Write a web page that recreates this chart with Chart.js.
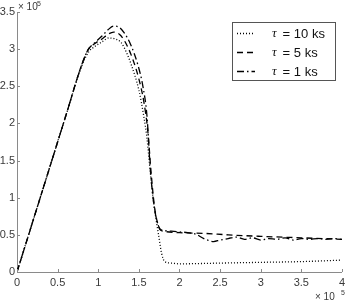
<!DOCTYPE html>
<html>
<head>
<meta charset="utf-8">
<script src="https://cdn.jsdelivr.net/npm/chart.js@4.4.0/dist/chart.umd.min.js"></script>
<style>
  html, body { margin: 0; padding: 0; background: #fff; }
  #wrap { width: 349px; height: 302px; }
</style>
</head>
<body>
<div id="wrap"><canvas id="myChart" width="349" height="302"></canvas></div>
<script>
// values in units of 1e5
const xTicks = [0, 0.5, 1, 1.5, 2, 2.5, 3, 3.5, 4];
const yTicks = [0, 0.5, 1, 1.5, 2, 2.5, 3, 3.5];

const x10 = [0, 0.2, 0.4, 0.6, 0.8, 0.88, 0.95, 1.05, 1.13, 1.2, 1.28, 1.35, 1.41, 1.5, 1.56, 1.6, 1.64, 1.68, 1.72, 1.75, 1.78, 1.82, 1.9, 2.0, 2.5, 3.0, 3.5, 4.0];
const y10 = [0, 0.7, 1.4, 2.1, 2.78, 2.96, 3.03, 3.1, 3.15, 3.14, 3.09, 2.95, 2.78, 2.45, 2.1, 1.8, 1.35, 0.95, 0.65, 0.45, 0.25, 0.14, 0.12, 0.11, 0.12, 0.13, 0.14, 0.16];

const x5 = [0, 0.2, 0.4, 0.6, 0.8, 0.88, 0.95, 1.05, 1.12, 1.19, 1.26, 1.33, 1.42, 1.5, 1.56, 1.61, 1.65, 1.69, 1.73, 1.76, 1.8, 2.0, 2.3, 2.6, 3.0, 3.5, 4.0];
const y5 = [0, 0.7, 1.4, 2.1, 2.8, 3.0, 3.07, 3.14, 3.2, 3.23, 3.2, 3.1, 2.88, 2.6, 2.3, 1.9, 1.35, 0.9, 0.66, 0.57, 0.55, 0.53, 0.52, 0.5, 0.48, 0.46, 0.44];

const x1 = [0, 0.2, 0.4, 0.6, 0.8, 0.88, 0.95, 1.05, 1.12, 1.19, 1.25, 1.32, 1.4, 1.49, 1.55, 1.6, 1.64, 1.68, 1.72, 1.76, 1.8, 1.9, 2.0, 2.1, 2.2, 2.3, 2.42, 2.5, 2.6, 2.7, 2.8, 2.9, 3.0, 3.1, 3.2, 3.3, 3.4, 3.5, 3.6, 3.7, 3.8, 3.9, 4.0];
const y1 = [0, 0.7, 1.4, 2.1, 2.8, 3.0, 3.08, 3.18, 3.26, 3.31, 3.3, 3.22, 3.06, 2.78, 2.5, 2.1, 1.4, 0.95, 0.7, 0.58, 0.56, 0.55, 0.54, 0.53, 0.51, 0.45, 0.41, 0.43, 0.45, 0.47, 0.44, 0.46, 0.43, 0.45, 0.44, 0.46, 0.43, 0.45, 0.44, 0.45, 0.44, 0.45, 0.44];

const labels = ["10 ks", "5 ks", "1 ks"];
const dashes = [[1, 2], [6, 4], [7, 3, 1.5, 3]];

function pts(xs, ys) {
  return xs.map((v, i) => ({ x: v, y: ys[i] }));
}

const axisColor = "#8a8a8a";
const textColor = "#3a3a3a";

const extras = {
  id: "extras",
  afterDraw(chart) {
    const ctx = chart.ctx;
    const xs = chart.scales.x, ys = chart.scales.y;
    const a = chart.chartArea;
    ctx.save();
    // inward ticks
    ctx.strokeStyle = axisColor;
    ctx.lineWidth = 1;
    ctx.beginPath();
    xTicks.forEach(v => {
      const px = Math.round(xs.getPixelForValue(v)) + 0.5;
      ctx.moveTo(px, a.bottom);
      ctx.lineTo(px, a.bottom - 3);
    });
    yTicks.forEach(v => {
      const py = Math.round(ys.getPixelForValue(v)) + 0.5;
      ctx.moveTo(a.left, py);
      ctx.lineTo(a.left + 3, py);
    });
    ctx.stroke();
    // exponent labels
    ctx.fillStyle = textColor;
    ctx.textBaseline = "alphabetic";
    ctx.textAlign = "left";
    ctx.font = "10px 'Liberation Sans', Arial, sans-serif";
    ctx.fillText("\u00d7 10", 18, 10);
    ctx.font = "7px 'Liberation Sans', Arial, sans-serif";
    ctx.fillText("5", 37, 6);
    ctx.font = "10px 'Liberation Sans', Arial, sans-serif";
    ctx.fillText("\u00d7 10", 315, 300);
    ctx.font = "7px 'Liberation Sans', Arial, sans-serif";
    ctx.fillText("5", 341, 295);
    // legend
    const bx = 232, by = 22, bw = 103, bh = 58;
    ctx.fillStyle = "#fff";
    ctx.fillRect(bx, by, bw, bh);
    ctx.strokeStyle = "#555";
    ctx.lineWidth = 1;
    ctx.strokeRect(bx + 0.5, by + 0.5, bw, bh);
    chart.data.datasets.forEach((ds, i) => {
      const ly = 33 + i * 19;
      ctx.strokeStyle = "#000";
      ctx.lineWidth = 1.3;
      ctx.setLineDash(ds.borderDash);
      ctx.beginPath();
      ctx.moveTo(237, ly + 0.5);
      ctx.lineTo(255, ly + 0.5);
      ctx.stroke();
      ctx.setLineDash([]);
      ctx.fillStyle = "#111";
      ctx.textBaseline = "middle";
      ctx.font = "italic 13px 'Liberation Serif', serif";
      ctx.fillText("\u03c4", 272, ly + 1);
      ctx.font = "13px 'Liberation Sans', Arial, sans-serif";
      ctx.fillText(" = " + labels[i], 279, ly + 1);
    });
    ctx.restore();
  }
};

const ctx = document.getElementById("myChart");

new Chart(ctx, {
  type: "line",
  data: {
    datasets: [
      { label: "tau = 10 ks", data: pts(x10, y10), borderDash: dashes[0] },
      { label: "tau = 5 ks", data: pts(x5, y5), borderDash: dashes[1] },
      { label: "tau = 1 ks", data: pts(x1, y1), borderDash: dashes[2] },
    ].map(d => Object.assign(d, {
      borderColor: "#000",
      borderWidth: 1.3,
      pointRadius: 0,
      fill: false,
      cubicInterpolationMode: "monotone",
    })),
  },
  options: {
    responsive: false,
    animation: false,
    layout: { padding: { top: 12, right: 3, left: 0, bottom: 0 } },
    plugins: {
      legend: { display: false },
      tooltip: { enabled: false },
    },
    scales: {
      x: {
        type: "linear",
        min: 0,
        max: 4,
        afterFit: (s) => { s.height = 30; },
        afterBuildTicks: (s) => { s.ticks = xTicks.map(v => ({ value: v })); },
        grid: { display: false, drawTicks: false, tickLength: 0 },
        border: { color: axisColor },
        ticks: {
          color: textColor,
          font: { size: 11, family: "'Liberation Sans', Arial, sans-serif" },
          padding: 4,
          maxRotation: 0,
          callback: (v) => String(v),
        },
      },
      y: {
        min: 0,
        max: 3.5,
        afterFit: (s) => { s.width = 17; },
        afterBuildTicks: (s) => { s.ticks = yTicks.map(v => ({ value: v })); },
        grid: { display: false, drawTicks: false, tickLength: 0 },
        border: { color: axisColor },
        ticks: {
          color: textColor,
          font: { size: 11, family: "'Liberation Sans', Arial, sans-serif" },
          padding: 2,
          callback: (v) => String(v),
        },
      },
    },
  },
  plugins: [extras],
});
</script>
</body>
</html>
